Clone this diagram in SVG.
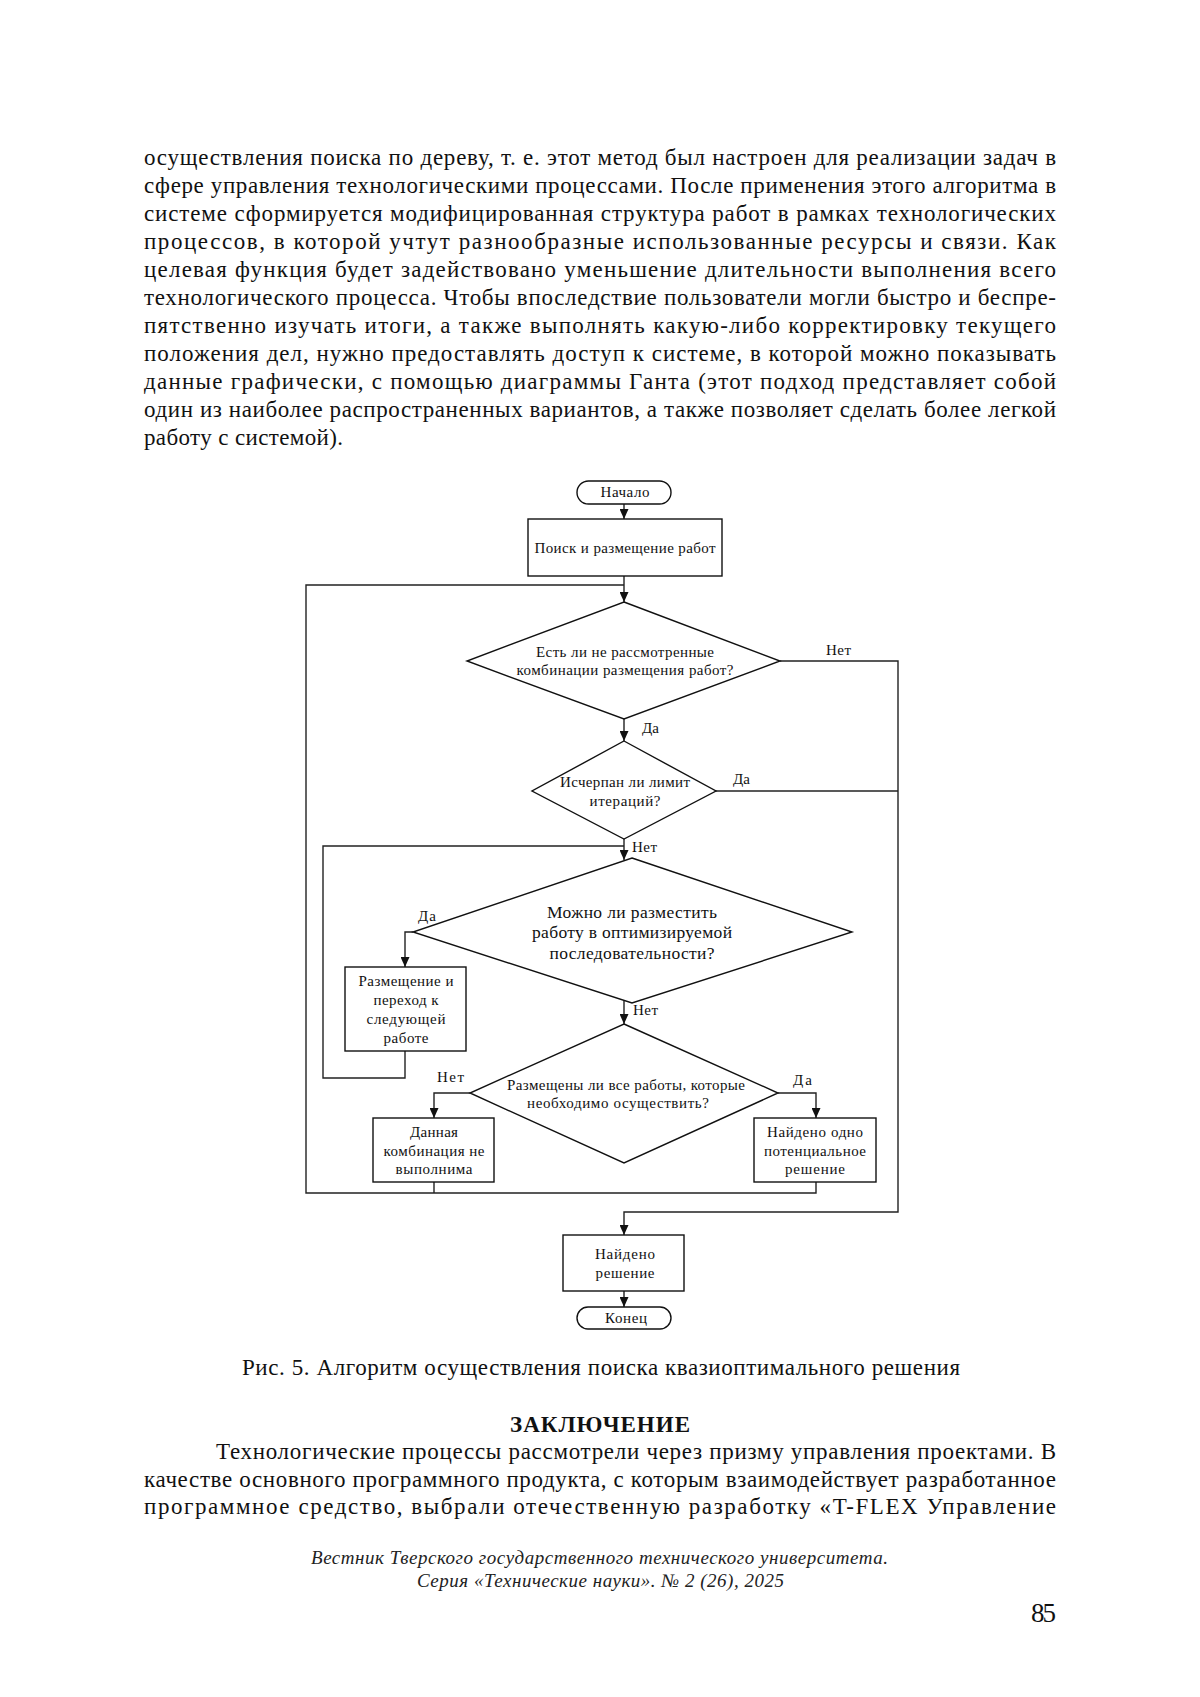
<svg xmlns="http://www.w3.org/2000/svg" width="1200" height="1697" viewBox="0 0 1200 1697">
<style>
.body{font-family:"Liberation Serif","Times New Roman",Tinos,serif;font-size:23px;fill:#111}
.bold{font-weight:bold}
.ital{font-family:"Liberation Serif","Times New Roman",Tinos,serif;font-style:italic;font-size:19px;fill:#222}
.pg{font-family:"Liberation Serif","Times New Roman",Tinos,serif;font-size:27px;fill:#111}
.t{font-family:"Liberation Serif","Times New Roman",Tinos,serif;font-size:15px;fill:#111;text-anchor:middle}
.tl{font-family:"Liberation Serif","Times New Roman",Tinos,serif;font-size:17.5px;fill:#111;text-anchor:middle}
.lbl{font-family:"Liberation Serif","Times New Roman",Tinos,serif;font-size:15px;fill:#111}
.shape{fill:#fff;stroke:#111;stroke-width:1.4}
.conn{fill:none;stroke:#222;stroke-width:1.4}
.arr{fill:none;stroke:#222;stroke-width:1.4;marker-end:url(#ah)}
</style>
<defs>
<marker id="ah" markerUnits="userSpaceOnUse" markerWidth="10" markerHeight="9" refX="10" refY="4.5" orient="auto" viewBox="0 0 10 9">
<path d="M0,0 L10,4.5 L0,9 Z" fill="#111"/>
</marker>
</defs>
<rect width="1200" height="1697" fill="#fff"/>

<g id="page-text">
<text class="body" x="144" y="165" textLength="912" lengthAdjust="spacing">осуществления поиска по дереву, т. е. этот метод был настроен для реализации задач в</text>
<text class="body" x="144" y="193" textLength="912" lengthAdjust="spacing">сфере управления технологическими процессами. После применения этого алгоритма в</text>
<text class="body" x="144" y="221" textLength="912" lengthAdjust="spacing">системе сформируется модифицированная структура работ в рамках технологических</text>
<text class="body" x="144" y="249" textLength="912" lengthAdjust="spacing">процессов, в которой учтут разнообразные использованные ресурсы и связи. Как</text>
<text class="body" x="144" y="277" textLength="912" lengthAdjust="spacing">целевая функция будет задействовано уменьшение длительности выполнения всего</text>
<text class="body" x="144" y="305" textLength="912" lengthAdjust="spacing">технологического процесса. Чтобы впоследствие пользователи могли быстро и беспре-</text>
<text class="body" x="144" y="333" textLength="912" lengthAdjust="spacing">пятственно изучать итоги, а также выполнять какую-либо корректировку текущего</text>
<text class="body" x="144" y="361" textLength="912" lengthAdjust="spacing">положения дел, нужно предоставлять доступ к системе, в которой можно показывать</text>
<text class="body" x="144" y="389" textLength="912" lengthAdjust="spacing">данные графически, с помощью диаграммы Ганта (этот подход представляет собой</text>
<text class="body" x="144" y="417" textLength="912" lengthAdjust="spacing">один из наиболее распространенных вариантов, а также позволяет сделать более легкой</text>
<text class="body" x="144" y="445" textLength="199" lengthAdjust="spacing">работу с системой).</text>

<text class="body" x="242" y="1375" textLength="718" lengthAdjust="spacing">Рис. 5. Алгоритм осуществления поиска квазиоптимального решения</text>
<text class="body bold" x="510" y="1432" textLength="180" lengthAdjust="spacing">ЗАКЛЮЧЕНИЕ</text>
<text class="body" x="216" y="1459" textLength="840" lengthAdjust="spacing">Технологические процессы рассмотрели через призму управления проектами. В</text>
<text class="body" x="144" y="1487" textLength="912" lengthAdjust="spacing">качестве основного программного продукта, с которым взаимодействует разработанное</text>
<text class="body" x="144" y="1514" textLength="912" lengthAdjust="spacing">программное средство, выбрали отечественную разработку «T-FLEX Управление</text>

<text class="ital" x="311" y="1564" textLength="577" lengthAdjust="spacing">Вестник Тверского государственного технического университета.</text>
<text class="ital" x="417" y="1587" textLength="367" lengthAdjust="spacing">Серия «Технические науки». № 2 (26), 2025</text>
<text class="pg" x="1031" y="1622" textLength="25" lengthAdjust="spacing">85</text>
</g>

<g id="connectors">
<line class="arr" x1="624" y1="504" x2="624" y2="519"/>
<line class="arr" x1="624" y1="576" x2="624" y2="602"/>
<polyline class="conn" points="624,585 306,585 306,1193 816,1193 816,1182"/>
<line class="conn" x1="434" y1="1182" x2="434" y2="1193"/>
<polyline class="arr" points="780,661 898,661 898,1212 624,1212 624,1235"/>
<line class="arr" x1="624" y1="719" x2="624" y2="741"/>
<line class="conn" x1="716" y1="791" x2="898" y2="791"/>
<line class="arr" x1="624" y1="839" x2="624" y2="860"/>
<polyline class="conn" points="624,846 323,846 323,1078 405,1078 405,1051"/>
<polyline class="arr" points="413,932 405,932 405,967"/>
<line class="arr" x1="624" y1="1001" x2="624" y2="1024"/>
<polyline class="arr" points="470,1093 434,1093 434,1118"/>
<polyline class="arr" points="778,1093 816,1093 816,1118"/>
<line class="arr" x1="624" y1="1291" x2="624" y2="1307"/>
<text class="lbl" x="826" y="655" textLength="25" lengthAdjust="spacing">Нет</text>
<text class="lbl" x="642" y="733" textLength="17" lengthAdjust="spacing">Да</text>
<text class="lbl" x="733" y="784" textLength="17" lengthAdjust="spacing">Да</text>
<text class="lbl" x="632" y="852" textLength="25" lengthAdjust="spacing">Нет</text>
<text class="lbl" x="418" y="921" textLength="18" lengthAdjust="spacing">Да</text>
<text class="lbl" x="633" y="1015" textLength="25" lengthAdjust="spacing">Нет</text>
<text class="lbl" x="437" y="1082" textLength="27" lengthAdjust="spacing">Нет</text>
<text class="lbl" x="793" y="1085" textLength="19" lengthAdjust="spacing">Да</text>
</g>

<g id="start">
<rect class="shape" x="577" y="481" width="94" height="23" rx="11.5"/>
<text class="t" x="625" y="497" textLength="49" lengthAdjust="spacing">Начало</text>
</g>
<g id="search">
<rect class="shape" x="528" y="519" width="194" height="57"/>
<text class="t" x="625" y="553" textLength="181" lengthAdjust="spacing">Поиск и размещение работ</text>
</g>
<g id="d1">
<polygon class="shape" points="624,602 780,661 624,719 467,661"/>
<text class="t" x="625" y="657" textLength="178" lengthAdjust="spacing">Есть ли не рассмотренные</text>
<text class="t" x="625" y="675" textLength="217" lengthAdjust="spacing">комбинации размещения работ?</text>
</g>
<g id="d2">
<polygon class="shape" points="624,741 716,791 624,839 532,791"/>
<text class="t" x="625" y="787" textLength="130" lengthAdjust="spacing">Исчерпан ли лимит</text>
<text class="t" x="625" y="806" textLength="71" lengthAdjust="spacing">итераций?</text>
</g>
<g id="d3">
<polygon class="shape" points="632,858 852,932 632,1003 413,932"/>
<text class="tl" x="632" y="918" textLength="170" lengthAdjust="spacing">Можно ли разместить</text>
<text class="tl" x="632" y="938" textLength="200" lengthAdjust="spacing">работу в оптимизируемой</text>
<text class="tl" x="632" y="959" textLength="165" lengthAdjust="spacing">последовательности?</text>
</g>
<g id="place-next">
<rect class="shape" x="345" y="967" width="121" height="84"/>
<text class="t" x="406" y="986" textLength="95" lengthAdjust="spacing">Размещение и</text>
<text class="t" x="406" y="1005" textLength="65" lengthAdjust="spacing">переход к</text>
<text class="t" x="406" y="1024" textLength="79" lengthAdjust="spacing">следующей</text>
<text class="t" x="406" y="1043" textLength="45" lengthAdjust="spacing">работе</text>
</g>
<g id="d4">
<polygon class="shape" points="624,1024 778,1093 624,1163 470,1093"/>
<text class="t" x="626" y="1090" textLength="238" lengthAdjust="spacing">Размещены ли все работы, которые</text>
<text class="t" x="618" y="1108" textLength="182" lengthAdjust="spacing">необходимо осуществить?</text>
</g>
<g id="infeasible">
<rect class="shape" x="373" y="1118" width="121" height="64"/>
<text class="t" x="434" y="1137" textLength="48" lengthAdjust="spacing">Данная</text>
<text class="t" x="434" y="1156" textLength="101" lengthAdjust="spacing">комбинация не</text>
<text class="t" x="434" y="1174" textLength="77" lengthAdjust="spacing">выполнима</text>
</g>
<g id="potential">
<rect class="shape" x="754" y="1118" width="122" height="64"/>
<text class="t" x="815" y="1137" textLength="96" lengthAdjust="spacing">Найдено одно</text>
<text class="t" x="815" y="1156" textLength="102" lengthAdjust="spacing">потенциальное</text>
<text class="t" x="815" y="1174" textLength="60" lengthAdjust="spacing">решение</text>
</g>
<g id="found">
<rect class="shape" x="563" y="1235" width="121" height="56"/>
<text class="t" x="625" y="1259" textLength="60" lengthAdjust="spacing">Найдено</text>
<text class="t" x="625" y="1278" textLength="59" lengthAdjust="spacing">решение</text>
</g>
<g id="end">
<rect class="shape" x="577" y="1307" width="94" height="22" rx="11"/>
<text class="t" x="626" y="1323" textLength="42" lengthAdjust="spacing">Конец</text>
</g>
</svg>
